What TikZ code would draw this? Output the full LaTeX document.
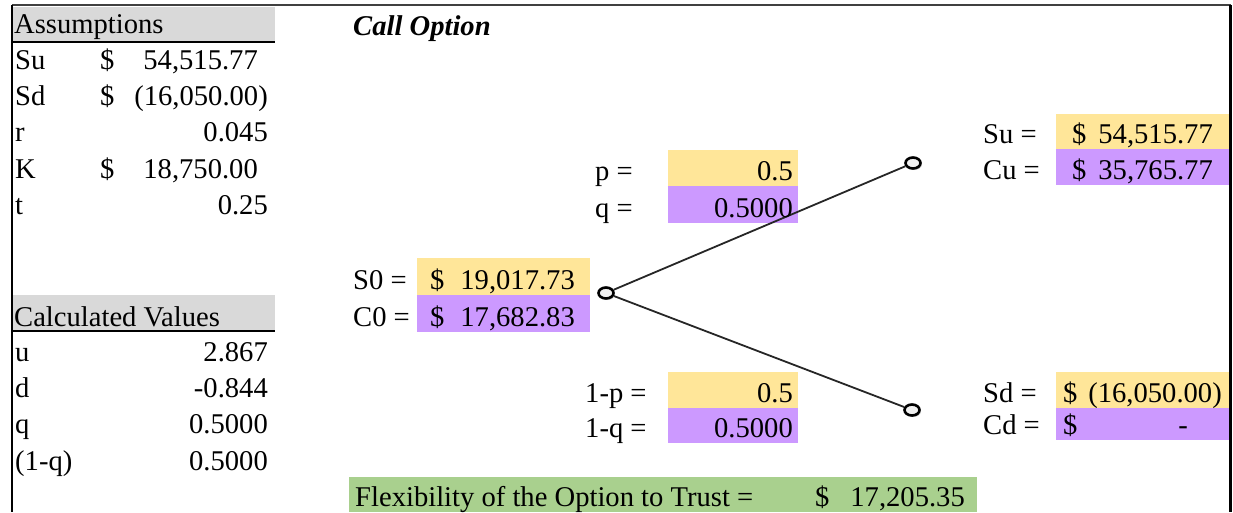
\documentclass[tikz,border=0pt]{standalone}
\usepackage{fontspec}
\setmainfont{Liberation Serif}
\usetikzlibrary{shapes.geometric,shadows}
\definecolor{hdrgray}{HTML}{D9D9D9}
\definecolor{sfill}{HTML}{FFE699}
\definecolor{cfill}{HTML}{CC99FF}
\definecolor{flexfill}{HTML}{A9D08E}

\begin{document}
\begin{tikzpicture}[x=1pt,y=-1pt,font=\fontsize{28.6}{32}\selectfont]
  \useasboundingbox (0,0) rectangle (1233,512);
  \tikzstyle{txt} = [inner sep=0pt, anchor=base west]
  \tikzstyle{val} = [inner sep=0pt, anchor=base east]
  \tikzstyle{cell} = [inner sep=0pt, anchor=north west]
  \tikzstyle{knot} = [line width=2.6pt, draw=black, ellipse, fill=gray!12, minimum width=15pt, minimum height=11pt, inner sep=0pt,
    drop shadow={shadow xshift=1.5pt, shadow yshift=-1.5pt, opacity=.3}]

  % sheet frame and header cells
  \node[cell, fill=hdrgray, minimum width=263, minimum height=35] (hdrA) at (12,7) {};
  \node[cell, fill=hdrgray, minimum width=263, minimum height=36] (hdrC) at (12,295) {};
  \draw[line width=2.5pt, black!75] (12,5) -- (1231,5);
  \draw[line width=1.5pt] (12,5) -- (12,512);
  \draw[line width=1.5pt] (12,42) -- (275,42);
  \draw[line width=1.5pt] (12,331) -- (275,331);

  % assumptions
  \node[txt] (asm) at (14,33) {Assumptions};
  \node[txt] (su) at (15,69) {Su};       \node[txt] at (100,69) {\$};  \node[val] at (258,69) {54,515.77};
  \node[txt] (sd) at (15,105) {Sd};      \node[txt] at (100,105) {\$}; \node[val] at (268,105) {(16,050.00)};
  \node[txt] (r) at (15,141) {r};                                      \node[val] at (268,141) {0.045};
  \node[txt] (k) at (15,178) {K};        \node[txt] at (100,178) {\$}; \node[val] at (258,178) {18,750.00};
  \node[txt] (t) at (15,214) {t};                                      \node[val] at (268,214) {0.25};

  % calculated values
  \node[txt] (calc) at (14,326) {Calculated Values};
  \node[txt] (u) at (15,361) {u};        \node[val] at (268,361) {2.867};
  \node[txt] (d) at (15,397) {d};        \node[val] at (268,397) {-0.844};
  \node[txt] (q) at (15,433) {q};        \node[val] at (268,433) {0.5000};
  \node[txt] (oneq) at (15,470) {(1-q)}; \node[val] at (268,470) {0.5000};

  \node[txt, font=\fontsize{28.6}{32}\selectfont\bfseries\itshape] (title) at (353,35) {Call Option};

  % coloured cells of the tree
  \node[cell, fill=sfill, minimum width=173, minimum height=37] (s0box) at (417,258) {};
  \node[cell, fill=cfill, minimum width=173, minimum height=37] (c0box) at (417,295) {};
  \node[cell, fill=sfill, minimum width=130, minimum height=36] (pbox) at (668,150) {};
  \node[cell, fill=cfill, minimum width=130, minimum height=37] (qbox) at (668,186) {};
  \node[cell, fill=sfill, minimum width=130, minimum height=36] (npbox) at (668,372) {};
  \node[cell, fill=cfill, minimum width=130, minimum height=35] (nqbox) at (668,408) {};
  \node[cell, fill=sfill, minimum width=174, minimum height=35] (subox) at (1056,114) {};
  \node[cell, fill=cfill, minimum width=174, minimum height=36] (cubox) at (1056,149) {};
  \node[cell, fill=sfill, minimum width=174, minimum height=36] (sdbox) at (1056,372) {};
  \node[cell, fill=cfill, minimum width=174, minimum height=32] (cdbox) at (1056,408) {};
  \node[cell, fill=flexfill, minimum width=628, minimum height=35] (flexbox) at (349,477) {};

  % tree
  \node[knot] (root) at (606,293) {};
  \node[knot] (up) at (913,163) {};
  \node[knot] (down) at (912,410) {};
  \draw[-, line width=1.8pt, black!85] (root) -- (up);
  \draw[-, line width=1.8pt, black!85] (root) -- (down);

  \node[txt] (s0) at (353,289) {S0 =};   \node[txt] at (430,289) {\$}; \node[val] at (575,289) {19,017.73};
  \node[txt] (c0) at (353,326) {C0 =};   \node[txt] at (430,326) {\$}; \node[val] at (575,326) {17,682.83};
  \node[txt] (p) at (595,180) {p =};     \node[val] at (793,180) {0.5};
  \node[txt] (qq) at (595,217) {q =};    \node[val] at (793,217) {0.5000};
  \node[txt] (np) at (585,402) {1-p =};  \node[val] at (793,402) {0.5};
  \node[txt] (nq) at (585,437) {1-q =};  \node[val] at (793,437) {0.5000};
  \node[txt] (sulbl) at (983,143) {Su =}; \node[txt] at (1072,143) {\$}; \node[val] at (1213,143) {54,515.77};
  \node[txt] (culbl) at (983,179) {Cu =}; \node[txt] at (1072,179) {\$}; \node[val] at (1213,179) {35,765.77};
  \node[txt] (sdlbl) at (983,402) {Sd =}; \node[txt] at (1063,402) {\$}; \node[val] at (1222,402) {(16,050.00)};
  \node[txt] (cdlbl) at (983,434) {Cd =}; \node[txt] at (1063,434) {\$}; \node[val] at (1188,434) {-};

  \node[txt] (flex) at (355,506) {Flexibility of the Option to Trust =};
  \node[txt] at (815,506) {\$}; \node[val] at (965,506) {17,205.35};

  \draw[line width=3pt] (1230,5) -- (1230,512);
\end{tikzpicture}
\end{document}
